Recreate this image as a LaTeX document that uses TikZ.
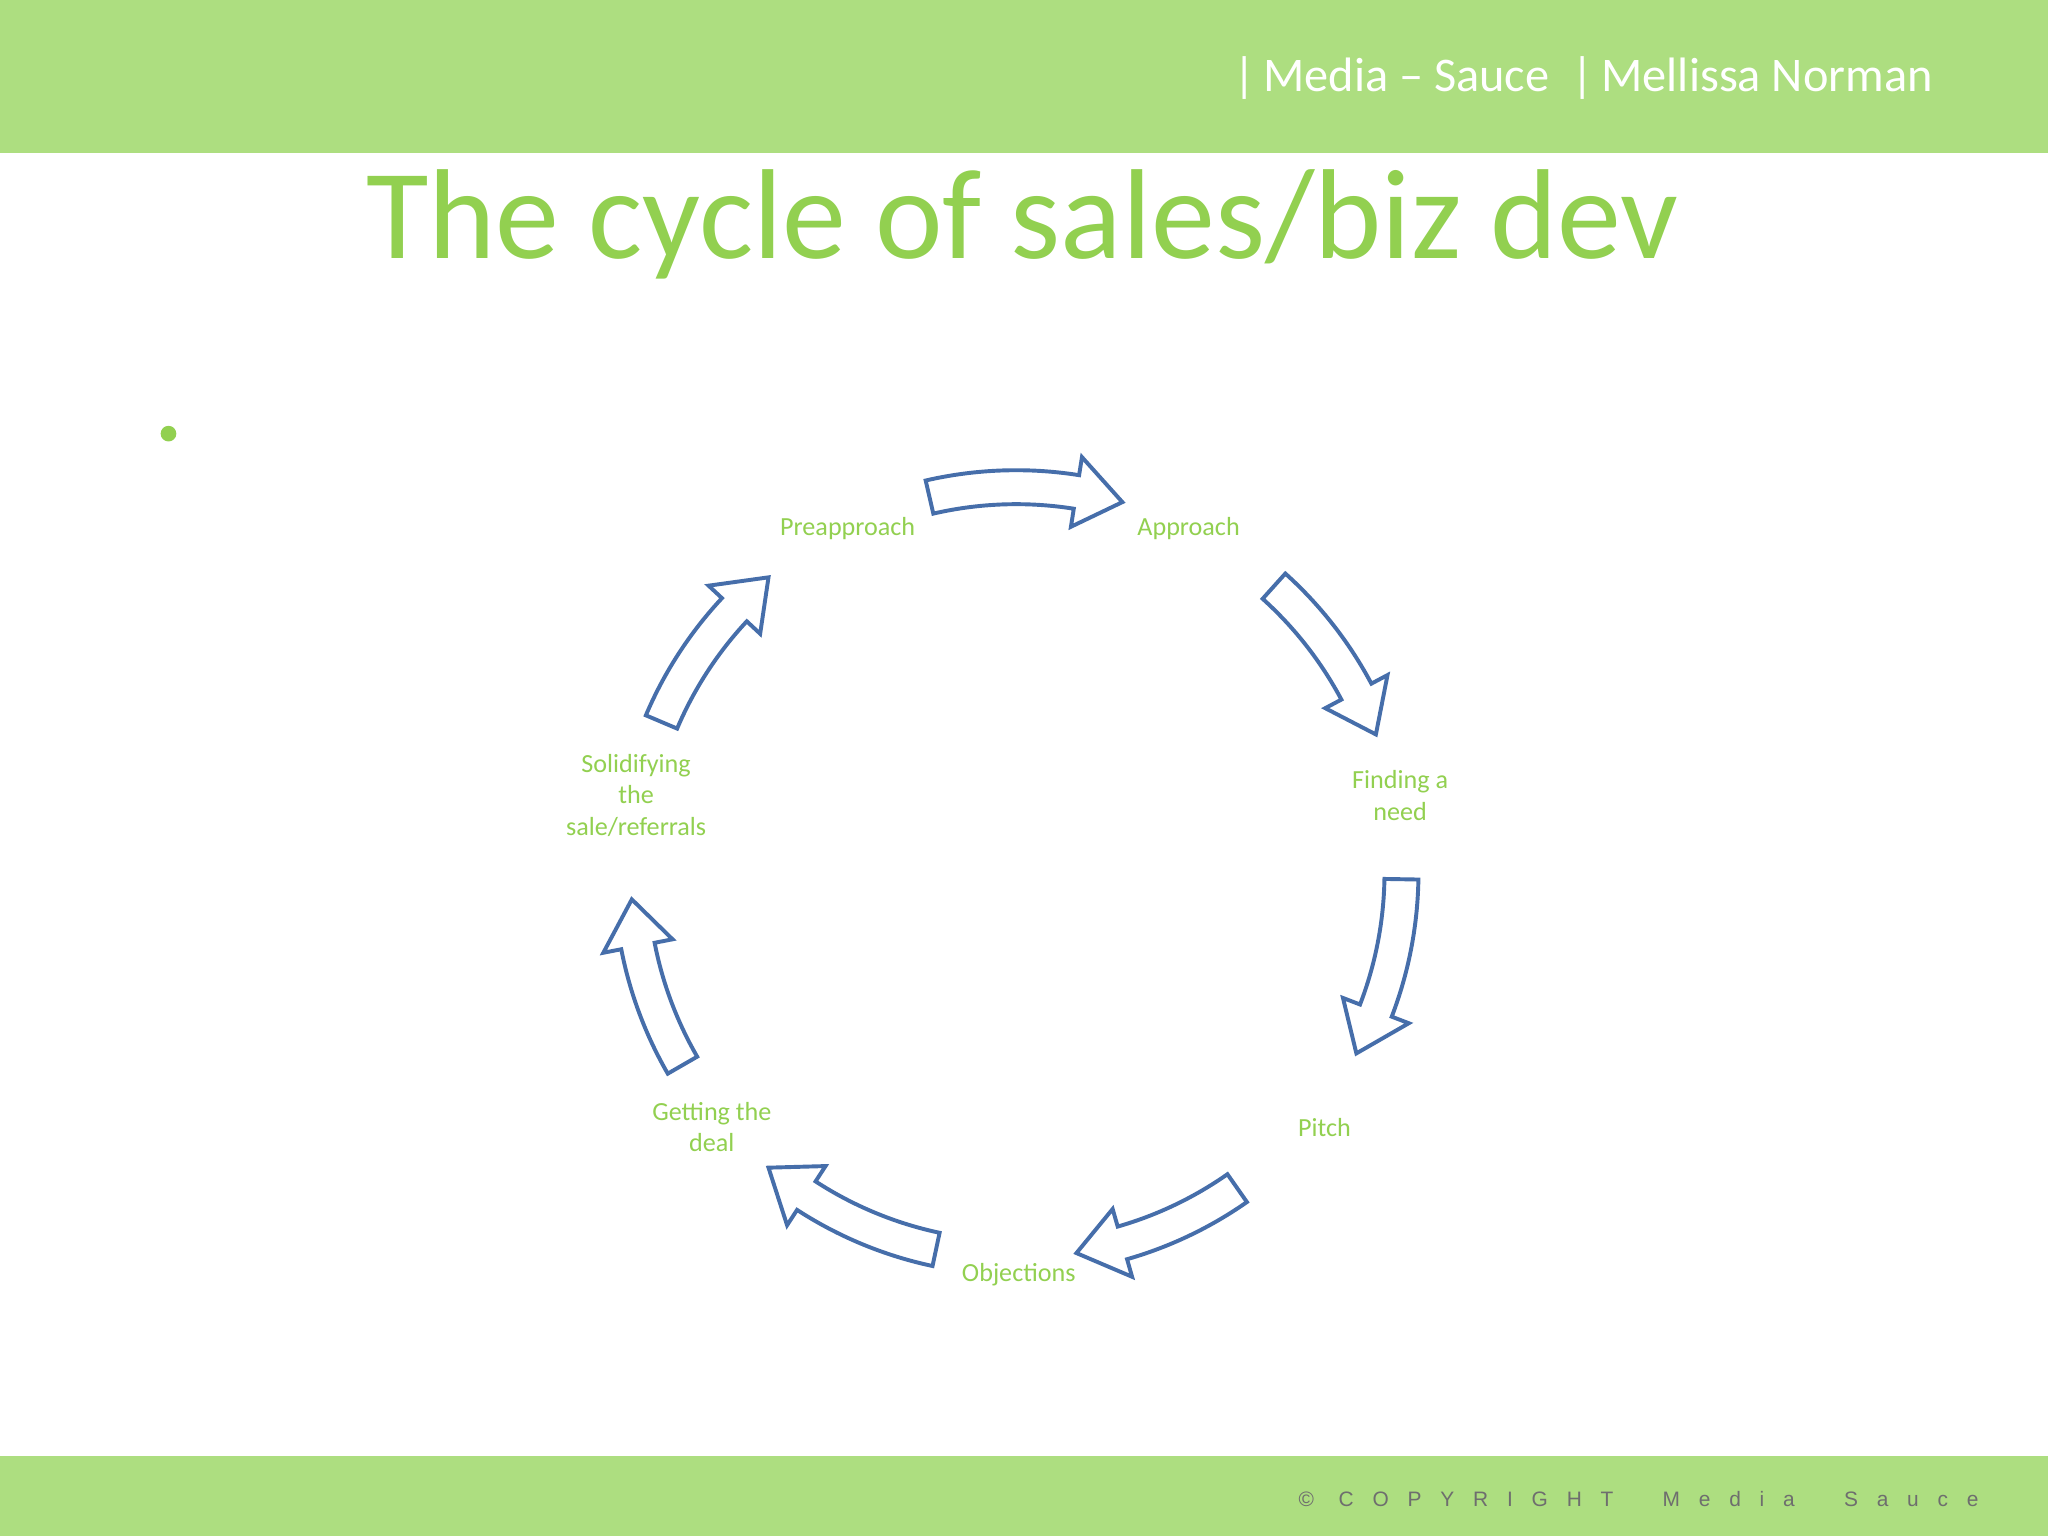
\documentclass[tikz,border=0pt]{standalone}
\usepackage{fontspec}
\setmainfont{Carlito}
\newfontfamily\copyfont[LetterSpace=90]{Liberation Sans}
\definecolor{band}{RGB}{173,222,128}
\definecolor{titlegreen}{RGB}{146,208,80}
\definecolor{arrowblue}{RGB}{70,110,170}
\definecolor{copygray}{RGB}{110,110,110}
\tikzset{
  lbl/.style={text=titlegreen,font=\fontsize{20}{24}\selectfont,align=center,inner sep=0pt},
  cyc/.style={draw=arrowblue,line width=3pt,fill=white,line join=miter}
}
\newcommand{\cyclearrow}[2]{% start angle, tip angle (clockwise)
  \pgfmathsetmacro{\hb}{#2+7}
  \draw[cyc] (#1:308) arc[start angle=#1,end angle=\hb,radius=308]
    -- (\hb:322) -- (#2:295) -- (\hb:268) -- (\hb:282)
    arc[start angle=\hb,end angle=#1,radius=282] -- cycle;
}
\begin{document}
\begin{tikzpicture}[x=1pt,y=1pt]
\useasboundingbox (0,0) rectangle (1568,-1176);
\fill[white] (0,0) rectangle (1568,-1176);
\fill[band] (0,0) rectangle (1568,-117);
\fill[band] (0,-1115) rectangle (1568,-1176);
\node[anchor=east,text=white,font=\fontsize{37}{40}\selectfont,inner sep=0pt] (hdr) at (1480,-60) {|\,Media -- Sauce\ \ |\,Mellissa Norman};
\node[text=titlegreen,font=\fontsize{98}{100}\selectfont,inner sep=0pt] (title) at (783,-172) {The cycle of sales/biz dev};
\node[anchor=east,text=copygray,font=\copyfont\fontsize{16}{18}\selectfont,inner sep=0pt] (copy) at (1515,-1148) {© COPYRIGHT\ \ Media\ \ Sauce};
\fill[titlegreen] (129,-332) circle (6);
\begin{scope}[shift={(778,-668)}]
  \cyclearrow{103}{74}
  \cyclearrow{48}{21}
  \cyclearrow{-1}{-28}
  \cyclearrow{-55}{-81}
  \cyclearrow{-102}{-130}
  \cyclearrow{-150}{-176}
  \cyclearrow{157}{130}
\end{scope}
\node[lbl] (pre) at (649,-405) {Preapproach};
\node[lbl] (app) at (910,-405) {Approach};
\node[lbl] (need) at (1072,-609) {Finding a\\need};
\node[lbl] (pitch) at (1014,-863) {Pitch};
\node[lbl] (obj) at (780,-976) {Objections};
\node[lbl] (deal) at (545,-863) {Getting the\\deal};
\node[lbl] (sol) at (487,-609) {Solidifying\\the\\sale/referrals};
\end{tikzpicture}
\end{document}
